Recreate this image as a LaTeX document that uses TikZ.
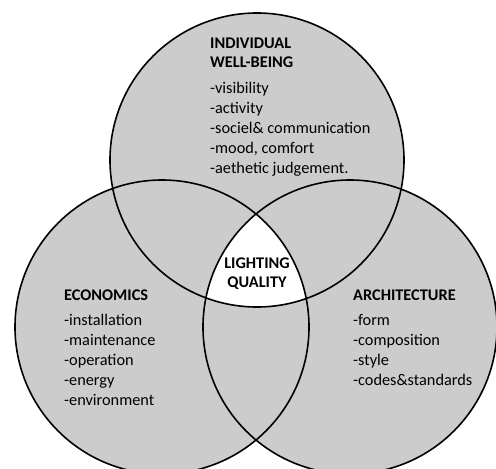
\documentclass[tikz,border=0pt]{standalone}
\usepackage{fontspec}
\setmainfont{Carlito}
\usetikzlibrary{positioning}

\definecolor{venngray}{RGB}{204,204,204}

\tikzset{
    ring/.style={line width=1.6pt},
    head/.style={font=\bfseries\fontsize{16.3}{19}\selectfont, align=left, inner sep=0pt},
    items/.style={font=\fontsize{16.3}{20}\selectfont, align=left, inner sep=0pt},
}

\begin{document}
\begin{tikzpicture}[x=1pt,y=-1pt]
    \useasboundingbox (0,0) rectangle (496,469);
    \fill[white] (0,0) rectangle (496,469);
    \def\rad{147}
    \coordinate (top) at (257,160);
    \coordinate (left) at (162,327);
    \coordinate (right) at (350,327);
    %% grey discs
    \fill[venngray] (top) circle (\rad);
    \fill[venngray] (left) circle (\rad);
    \fill[venngray] (right) circle (\rad);
    %% common part left white
    \begin{scope}
        \clip (left) circle (\rad);
        \clip (right) circle (\rad);
        \fill[white] (top) circle (\rad);
    \end{scope}
    \draw[ring] (top) circle (\rad);
    \draw[ring] (left) circle (\rad);
    \draw[ring] (right) circle (\rad);
    %%
    \node[head, anchor=base west] (wellhead) at (210,67)
        {INDIVIDUAL\\WELL-BEING};
    \node[items, below=15pt of wellhead.base west, anchor=north west] (welllist)
        {-visibility\\-activity\\-sociel\& communication\\-mood, comfort\\-aethetic judgement.};
    \node[head, align=center, anchor=base] (quality) at (257,287)
        {LIGHTING\\QUALITY};
    %%
    \node[head, anchor=base west] (econhead) at (64,300) {ECONOMICS};
    \node[items, below=14pt of econhead.base west, anchor=north west] (econlist)
        {-installation\\-maintenance\\-operation\\-energy\\-environment};
    \node[head, anchor=base west] (archhead) at (353,300) {ARCHITECTURE};
    \node[items, below=14pt of archhead.base west, anchor=north west] (archlist)
        {-form\\-composition\\-style\\-codes\&standards};
\end{tikzpicture}
\end{document}
